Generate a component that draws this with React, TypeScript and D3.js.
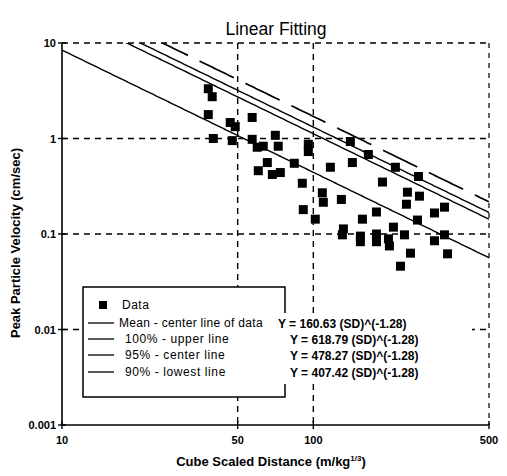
import React from "react";
import * as d3 from "d3";

const sdValues = [38.2, 39.6, 38.2, 40.0, 46.7, 48.9, 47.6, 57.1, 57.1, 59.8, 63.2, 70.6, 72.5, 95.5, 95.5, 65.6, 60.4, 68.7, 73.9, 84.0, 116.9, 90.4, 108.6, 109.6, 129.3, 91.2, 101.8, 140.4, 165.6, 143.0, 212.1, 262, 188.4, 236.8, 234.7, 264.4, 332.6, 303.4, 178.3, 156.8, 259.6, 208.3, 131.7, 130.5, 153.9, 153.9, 178.3, 178.3, 199.0, 200.8, 230.5, 303.4, 332.6, 243.5, 342, 222.2];
const ppvValues = [3.32, 2.74, 1.78, 1.0, 1.47, 1.33, 0.95, 1.66, 0.98, 0.81, 0.83, 1.08, 0.83, 0.87, 0.73, 0.56, 0.46, 0.42, 0.44, 0.55, 0.5, 0.34, 0.27, 0.215, 0.23, 0.18, 0.143, 0.93, 0.68, 0.56, 0.5, 0.4, 0.35, 0.274, 0.205, 0.249, 0.191, 0.166, 0.17, 0.143, 0.14, 0.118, 0.113, 0.098, 0.095, 0.083, 0.1, 0.083, 0.089, 0.075, 0.098, 0.085, 0.098, 0.063, 0.062, 0.046];

const fitNames = ["Mean - center line of data", "100% - upper line", "95% - center line", "90% - lowest line"];
const fitCoefs = [160.63, 618.79, 478.27, 407.42];
const fitExponent = -1.28;
const fitEquations = ["Y = 160.63 (SD)^(-1.28)", "Y = 618.79 (SD)^(-1.28)", "Y = 478.27 (SD)^(-1.28)", "Y = 407.42 (SD)^(-1.28)"];

const xTicks = [10, 50, 100, 500];
const xTickLabels = ["10", "50", "100", "500"];
const yTicks = [10, 1, 0.1, 0.01, 0.001];
const yTickLabels = ["10", "1", "0.1", "0.01", "0.001"];

const W = 507, H = 476;
const L = 62, R = 489, T = 43, B = 425;
const FONT = "'Liberation Sans', Arial, sans-serif";

export default function App() {
  const x = d3.scaleLog().domain([10, 500]).range([L, R]);
  const y = d3.scaleLog().domain([0.001, 10]).range([B, T]);

  const sdSamples = d3.range(0, 201).map((i) => 10 * Math.pow(50, i / 200));
  const fitPath = (c: number) =>
    d3.line<number>()
      .x((s) => x(s))
      .y((s) => y(c * Math.pow(s, fitExponent)))(sdSamples) as string;

  const dash = "6,5";
  const legX = 83, legY = 287, legW = 202, legH = 110;
  const rowY = [323, 339, 355, 372];
  const eqX = [278, 290, 290, 290];

  return (
    <svg width={W} height={H} style={{ position: "absolute", left: 0, top: 0, background: "#fff" }} fontFamily={FONT}>
      <defs>
        <clipPath id="plot">
          <rect x={L} y={T} width={R - L} height={B - T} />
        </clipPath>
      </defs>
      <rect x={0} y={0} width={W} height={H} fill="#fff" />
      <text x={276} y={35} textAnchor="middle" fontSize={17.5} fill="#000">Linear Fitting</text>

      {[10, 1, 0.1, 0.01].map((v) => (
        <line key={"h" + v} x1={L} x2={R} y1={y(v)} y2={y(v)} stroke="#000" strokeWidth={1.4} strokeDasharray={dash} />
      ))}
      {[50, 100].map((v) => (
        <line key={"v" + v} x1={x(v)} x2={x(v)} y1={T} y2={B} stroke="#000" strokeWidth={1.4} strokeDasharray={dash} />
      ))}
      <line x1={R} x2={R} y1={T} y2={B} stroke="#000" strokeWidth={1.2} strokeDasharray="5,5" />

      <g clipPath="url(#plot)" fill="none" stroke="#000">
        <path d={fitPath(fitCoefs[0])} strokeWidth={1.4} />
        <path d={fitPath(fitCoefs[1])} strokeWidth={1.7} strokeDasharray="38,13" />
        <path d={fitPath(fitCoefs[2])} strokeWidth={1.4} />
        <path d={fitPath(fitCoefs[3])} strokeWidth={1.4} />
      </g>

      <g fill="#000">
        {sdValues.map((s, i) => (
          <rect key={i} x={x(s) - 4.5} y={y(ppvValues[i]) - 4.5} width={9} height={9} />
        ))}
      </g>

      <line x1={L} x2={L} y1={T} y2={B} stroke="#000" strokeWidth={1.6} />
      <line x1={L} x2={R} y1={B} y2={B} stroke="#000" strokeWidth={1.6} />
      {yTicks.map((v, i) => (
        <g key={"yt" + v}>
          <line x1={L - 4} x2={L + 4} y1={y(v)} y2={y(v)} stroke="#000" strokeWidth={1.4} />
          <text x={L - 6} y={y(v) + 4} textAnchor="end" fontSize={11} fontWeight="bold">{yTickLabels[i]}</text>
        </g>
      ))}
      {xTicks.map((v, i) => (
        <g key={"xt" + v}>
          <line x1={x(v)} x2={x(v)} y1={B - 4} y2={B + 4} stroke="#000" strokeWidth={1.4} />
          <text x={x(v)} y={B + 19} textAnchor="middle" fontSize={11} fontWeight="bold">{xTickLabels[i]}</text>
        </g>
      ))}

      <text x={271} y={466} textAnchor="middle" fontSize={13} fontWeight="bold">
        Cube Scaled Distance (m/kg<tspan dy={-5} fontSize={8}>1/3</tspan><tspan dy={5}>)</tspan>
      </text>
      <text transform="translate(20,243) rotate(-90)" textAnchor="middle" fontSize={13} fontWeight="bold">
        Peak Particle Velocity (cm/sec)
      </text>

      <rect x={legX} y={legY} width={legW} height={legH} fill="#fff" stroke="#000" strokeWidth={1.5} />
      <rect x={277} y={313} width={195} height={71} fill="#fff" />
      <rect x={99} y={301} width={8} height={8} fill="#000" />
      <text x={122} y={309} fontSize={12} letterSpacing={0.5}>Data</text>
      {fitNames.map((n, i) => (
        <g key={n}>
          <line x1={88} x2={114} y1={rowY[i]} y2={rowY[i]} stroke="#000" strokeWidth={1.3} />
          <text x={i === 0 ? 119 : 125} y={rowY[i] + 4} fontSize={12} letterSpacing={i === 0 ? 0.3 : 0.6}>{n}</text>
          <text x={eqX[i]} y={rowY[i] + 5} fontSize={12} fontWeight="bold">{fitEquations[i]}</text>
        </g>
      ))}
    </svg>
  );
}
